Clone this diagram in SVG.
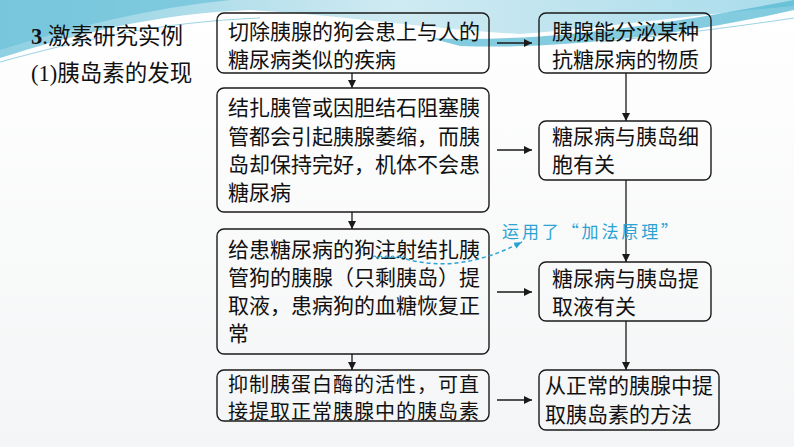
<svg xmlns="http://www.w3.org/2000/svg" width="794" height="447" viewBox="0 0 794 447">
<style>
.box{fill:none;stroke:#1a1a1a;stroke-width:1.4}
.t{font-family:"Noto Sans CJK SC","Noto Sans",sans-serif;font-size:21px;fill:#111}
.s{font-family:"Noto Sans CJK SC","Noto Sans",sans-serif;font-size:20px;letter-spacing:1px;fill:#111}
.h{font-family:"Liberation Serif","Noto Sans CJK SC",serif;font-size:22.5px;fill:#111}
.c{stroke:#1a1a1a;stroke-width:1.3;fill:none;marker-end:url(#ah)}
.note{font-family:"Noto Sans CJK SC",sans-serif;font-size:17px;fill:#2aa3d3}
</style>
<defs>
<marker id="ah" viewBox="0 0 10 10" refX="10" refY="5" markerWidth="8" markerHeight="8" markerUnits="userSpaceOnUse" orient="auto"><path d="M0,0 L10,5 L0,10 Z" fill="#1a1a1a"/></marker>
<marker id="ahb" viewBox="0 0 10 10" refX="10" refY="5" markerWidth="8" markerHeight="8" markerUnits="userSpaceOnUse" orient="auto"><path d="M0,1 L10,5 L0,9 Z" fill="#2aa3d3"/></marker>
<linearGradient id="bg" x1="0" y1="0" x2="0" y2="1"><stop offset="0" stop-color="#ffffff"/><stop offset="1" stop-color="#f4f5f6"/></linearGradient>
<linearGradient id="band" x1="0" y1="0" x2="1" y2="0"><stop offset="0" stop-color="#8fd0e2"/><stop offset="0.5" stop-color="#cfeaf2"/><stop offset="1" stop-color="#a9dceb"/></linearGradient>
</defs>
<rect width="794" height="447" fill="url(#bg)"/>
<g id="background">
<path d="M0,0 H794 V6 C700,14 600,28 520,34 C440,30 330,14 250,10 C150,14 70,36 0,58 Z" fill="url(#band)"/>
<path d="M0,0 H230 C150,8 70,28 0,50 Z" fill="#6fc3da" opacity="0.75"/>
<path d="M430,38 C540,44 680,22 794,0 V10 C690,34 560,50 460,46 Z" fill="#4fb6d2" opacity="0.7"/>
<path d="M0,62 C80,40 160,22 260,18" stroke="#9ad4e4" stroke-width="1" fill="none"/>
<path d="M600,42 C680,34 740,26 794,18" stroke="#9ad4e4" stroke-width="1" fill="none"/>
</g>
<g id="title">
<text class="h" x="31" y="44"><tspan font-weight="bold">3</tspan>.<tspan font-family="Noto Sans CJK SC,sans-serif">激素研究实例</tspan></text>
<text class="h" x="31" y="81">(1)<tspan font-family="Noto Sans CJK SC,sans-serif">胰岛素的发现</tspan></text>
</g>
<g id="connectors">
<line class="c" x1="352" y1="73" x2="352" y2="88"/>
<line class="c" x1="352" y1="212" x2="352" y2="229"/>
<line class="c" x1="352" y1="354" x2="352" y2="370"/>
<line class="c" x1="626" y1="73" x2="626" y2="121"/>
<line class="c" x1="626" y1="180" x2="626" y2="262"/>
<line class="c" x1="626" y1="321" x2="626" y2="370"/>
<line class="c" x1="497" y1="43" x2="532" y2="43"/>
<line class="c" x1="497" y1="150" x2="532" y2="150"/>
<line class="c" x1="497" y1="292" x2="532" y2="292"/>
<line class="c" x1="497" y1="400" x2="532" y2="400"/>
</g>
<g id="n1"><rect class="box" x="217" y="13" width="272" height="60" rx="7"/>
<text class="t" x="228" y="39">切除胰腺的狗会患上与人的</text>
<text class="t" x="228" y="67">糖尿病类似的疾病</text></g>
<g id="n2"><rect class="box" x="217" y="88" width="272" height="124" rx="7"/>
<text class="t" x="228" y="115">结扎胰管或因胆结石阻塞胰</text>
<text class="t" x="228" y="144">管都会引起胰腺萎缩，而胰</text>
<text class="t" x="228" y="172">岛却保持完好，机体不会患</text>
<text class="t" x="228" y="200">糖尿病</text></g>
<g id="n3"><rect class="box" x="217" y="229" width="272" height="125" rx="7"/>
<text class="t" x="228" y="257">给患糖尿病的狗注射结扎胰</text>
<text class="t" x="228" y="285">管狗的胰腺（只剩胰岛）提</text>
<text class="t" x="228" y="313">取液，患病狗的血糖恢复正</text>
<text class="t" x="228" y="341">常</text></g>
<g id="n4"><rect class="box" x="217" y="370" width="272" height="51" rx="7"/>
<text class="s" x="228" y="392">抑制胰蛋白酶的活性，可直</text>
<text class="s" x="228" y="419">接提取正常胰腺中的胰岛素</text></g>
<g id="r1"><rect class="box" x="539" y="13" width="172" height="60" rx="7"/>
<text class="t" x="552" y="39">胰腺能分泌某种</text>
<text class="t" x="552" y="67">抗糖尿病的物质</text></g>
<g id="r2"><rect class="box" x="539" y="121" width="172" height="59" rx="7"/>
<text class="t" x="552" y="144">糖尿病与胰岛细</text>
<text class="t" x="552" y="172">胞有关</text></g>
<g id="r3"><rect class="box" x="539" y="262" width="172" height="59" rx="7"/>
<text class="t" x="552" y="286">糖尿病与胰岛提</text>
<text class="t" x="552" y="314">取液有关</text></g>
<g id="r4"><rect class="box" x="539" y="370" width="180" height="60" rx="7"/>
<text class="t" x="545" y="393">从正常的胰腺中提</text>
<text class="t" x="545" y="422">取胰岛素的方法</text></g>
<g id="annotation">
<path d="M373,257 q1.5,-2 3,0 t3,0 t3,0 t3,0 t3,0 t3,0 t3,0 t3,0 t3,0 t3,0 t3,0" stroke="#2aa3d3" stroke-width="1.2" fill="none"/>
<path d="M406,259 Q460,274 522,242" stroke="#2aa3d3" stroke-width="1.5" stroke-dasharray="4 3" fill="none" marker-end="url(#ahb)"/>
<text class="note" x="502" y="238" textLength="176" lengthAdjust="spacing">运用了“加法原理”</text>
</g>
</svg>
